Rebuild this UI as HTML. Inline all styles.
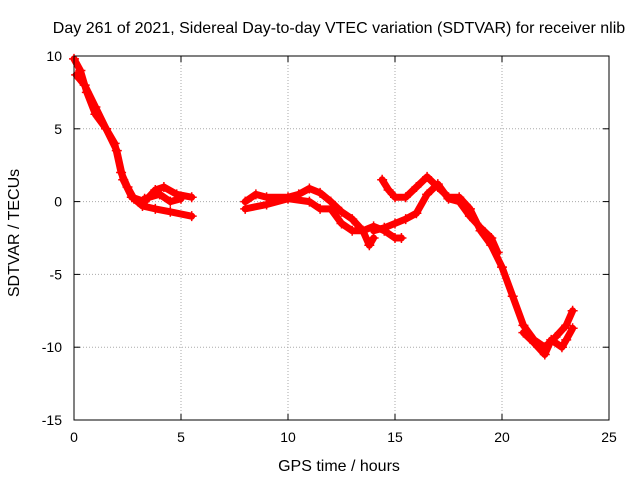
<!DOCTYPE html>
<html><head><meta charset="utf-8"><style>
body{margin:0;background:#fff;}
svg{display:block;font-family:"Liberation Sans",Arial,sans-serif;}
</style></head><body>
<svg id="chart" width="640" height="480">
<text x="339" y="33" text-anchor="middle" font-size="16">Day 261 of 2021, Sidereal Day-to-day VTEC variation (SDTVAR) for receiver nlib</text>
<text x="339" y="471" text-anchor="middle" font-size="16">GPS time / hours</text>
<text transform="translate(19,233) rotate(-90)" text-anchor="middle" font-size="16">SDTVAR / TECUs</text>
<g id="grid"></g><g id="marks"></g><g id="axes"></g>
</svg>
<script>
const xTicks=[0,5,10,15,20,25];
const yTicks=[10,5,0,-5,-10,-15];
const trackA=[[0,9.8],[0.3,9],[0.6,7.5],[1,6],[1.5,5],[1.9,4],[2.2,2],[2.5,1],[2.8,0.2],[3.2,-0.3],[3.8,-0.5],[4.5,-0.7],[5.5,-1]];
const trackB=[[0.1,8.7],[0.5,8],[1,6.5],[1.5,5],[2,3.5],[2.3,1.5],[2.7,0.3],[3.3,0],[3.8,0.8],[4.2,1],[4.8,0.5],[5.5,0.3]];
const trackB2=[[3.3,0.2],[4,0.5],[4.5,0],[5,0.2]];
const trackC=[[8,0],[8.5,0.5],[9,0.3],[10,0.3],[10.5,0.5],[11,0.9],[11.5,0.6],[12,0],[12.5,-0.7],[13,-1.2],[13.5,-2],[13.8,-3],[14,-2.5]];
const trackD=[[8,-0.5],[9,-0.2],[10,0.2],[11,0],[11.5,-0.5],[12,-0.5],[12.5,-1.5],[13,-2],[13.5,-2],[14,-1.7],[14.5,-2],[15,-2.5],[15.3,-2.5]];
const trackE=[[14.4,1.5],[14.7,0.8],[15,0.3],[15.5,0.3],[16,1],[16.5,1.7],[17,1],[17.5,0.3],[18,0.3],[18.5,-0.5],[19,-2],[19.5,-3],[20,-4.5],[20.5,-6.5],[21,-8.5],[21.5,-9.5],[22,-10],[22.5,-9.3],[23,-8.5],[23.3,-7.5]];
const trackF=[[14,-2],[14.5,-1.8],[15,-1.5],[15.5,-1.2],[16,-0.8],[16.5,0.5],[17,1.2],[17.5,0.2],[18,0],[18.5,-1],[19,-1.8],[19.5,-2.5],[19.8,-3.5]];
const trackG=[[21,-9],[21.5,-9.7],[22,-10.5],[22.3,-9.5],[22.8,-10],[23,-9.5],[23.3,-8.7]];
const tracks=[trackA,trackB,trackB2,trackC,trackD,trackE,trackF,trackG];
const L=74,R=609,T=56,B=420;
const sx=v=>L+(v-0)/(25-0)*(R-L);
const sy=v=>B-(v+15)/(25)*(B-T);
const NS="http://www.w3.org/2000/svg";
function mk(t,a,p){const e=document.createElementNS(NS,t);for(const k in a)e.setAttribute(k,a[k]);p.appendChild(e);return e;}
const grid=document.getElementById('grid'),axes=document.getElementById('axes'),marks=document.getElementById('marks');
xTicks.forEach(t=>{const x=sx(t);
 if(t>0&&t<25){const g=mk('line',{x1:x,x2:x,y1:T,y2:B,stroke:'#aaa','stroke-dasharray':'1,2'},grid);}
 mk('line',{x1:x,x2:x,y1:B,y2:B-6,stroke:'#000'},axes);mk('line',{x1:x,x2:x,y1:T,y2:T+6,stroke:'#000'},axes);
 const tx=mk('text',{x:x,y:B+22,'text-anchor':'middle','font-size':14},axes);tx.textContent=t;
 });
yTicks.forEach(t=>{const y=sy(t);
 if(t>-15&&t<10){const g=mk('line',{x1:L,x2:R,y1:y,y2:y,stroke:'#aaa','stroke-dasharray':'1,2'},grid);}
 mk('line',{x1:L,x2:L+6,y1:y,y2:y,stroke:'#000'},axes);mk('line',{x1:R,x2:R-6,y1:y,y2:y,stroke:'#000'},axes);
 const tx=mk('text',{x:L-12,y:y+5,'text-anchor':'end','font-size':14},axes);tx.textContent=t;
 });
const fr=mk('rect',{x:L,y:T,width:R-L,height:B-T,fill:'none',stroke:'#000'},axes);

tracks.forEach(tr=>{
 const pl=mk('polyline',{points:tr.map(p=>sx(p[0])+','+sy(p[1])).join(' '),fill:'none',stroke:'#f00','stroke-width':7,'stroke-linejoin':'round','stroke-linecap':'round'},marks);
 
 tr.forEach(p=>{const x=sx(p[0]),y=sy(p[1]);
  const m=mk('path',{d:`M${x-5},${y}H${x+5}M${x},${y-5}V${y+5}`,stroke:'#f00','stroke-width':1.5},marks);
  });
});
</script>
</body></html>
